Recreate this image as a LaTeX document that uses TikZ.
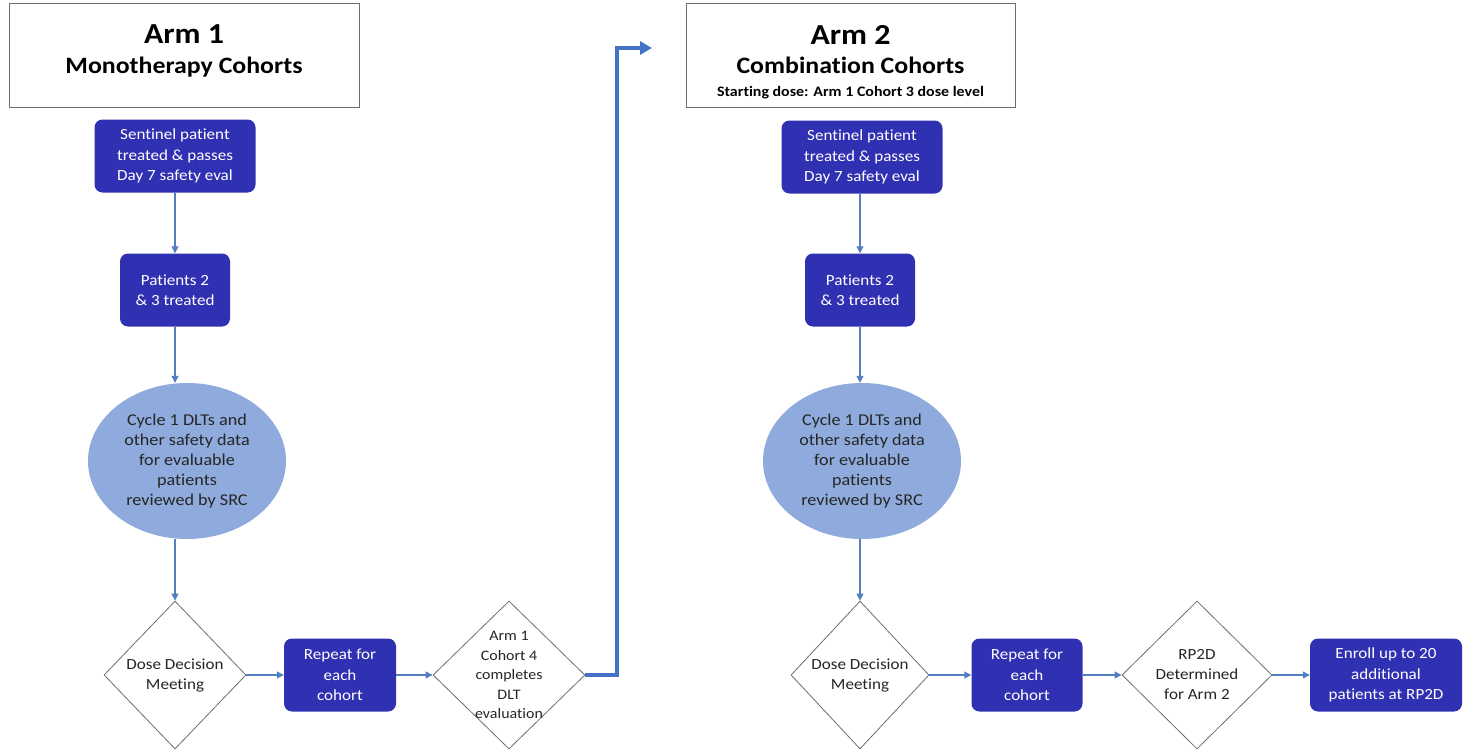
\documentclass[tikz,border=0pt]{standalone}
\usepackage{fontspec}
\setmainfont{Carlito}[FakeStretch=1.1, Ligatures=NoCommon]
\usetikzlibrary{shapes.geometric,arrows.meta}

\definecolor{boxblue}{RGB}{48,48,178}
\definecolor{ovalblue}{RGB}{143,170,220}
\definecolor{linkblue}{RGB}{84,126,194}
\definecolor{armblue}{RGB}{68,114,196}
\definecolor{framegray}{RGB}{110,110,110}

\tikzset{
  titlebox/.style={draw=framegray, line width=1pt, minimum width=#1, minimum height=103pt, inner sep=0pt},
  armname/.style={font=\bfseries\fontsize{29}{34}\selectfont},
  armkind/.style={font=\bfseries\fontsize{23.5}{28}\selectfont},
  armnote/.style={font=\bfseries\fontsize{14.5}{18}\selectfont},
  stepbox/.style={fill=boxblue, rounded corners=8pt, text=white, font=\fontsize{15.5}{20.5}\selectfont, align=center, minimum width=#1, minimum height=73pt, inner sep=0pt},
  review/.style={ellipse, fill=ovalblue, text=black!85, font=\fontsize{16.5}{20}\selectfont, align=center, minimum width=198pt, minimum height=156pt, inner sep=0pt},
  decision/.style={diamond, draw=framegray, line width=0.8pt, fill=white, minimum width=#1, minimum height=148pt, inner sep=0pt},
  decisiontext/.style={font=\fontsize{15.5}{20}\selectfont, align=center, text=black!85},
  link/.style={draw=linkblue, line width=1.1pt, -{Triangle[length=7pt,width=7pt]}},
  armlink/.style={draw=armblue, line width=3.5pt, -{Triangle[length=12pt,width=13pt]}}
}

\begin{document}
\begin{tikzpicture}[x=1pt,y=-1pt]
\useasboundingbox (0,0) rectangle (1466,752);

% Arm 1
\node[titlebox=350pt,
  label={[armname, yshift=21pt]center:Arm 1},
  label={[armkind, yshift=-12pt]center:Monotherapy Cohorts}] (arm1) at (184,55.5) {};

\node[stepbox=161pt] (sent1) at (175,156) {Sentinel patient\\treated \& passes\\Day 7 safety eval};
\node[stepbox=110pt] (pat1) at (175,290) {Patients 2\\\& 3 treated};
\node[review] (src1) at (187,461) {Cycle 1 DLTs and\\other safety data\\for evaluable\\patients\\reviewed by SRC};
\node[decision=142pt, label={[decisiontext]center:Dose Decision\\Meeting}] (ddm1) at (175,675) {};
\node[stepbox=112pt] (rep1) at (340,675) {Repeat for\\each\\cohort};
\node[decision=152pt, label={[decisiontext, font=\fontsize{14.5}{19.5}\selectfont]center:Arm 1\\Cohort 4\\completes\\DLT\\evaluation}] (coh4) at (509,675) {};

\draw[link] (sent1) -- (pat1);
\draw[link] (pat1) -- (pat1 |- src1.north);
\draw[link] (src1.south -| ddm1) -- (ddm1);
\draw[link] (ddm1) -- (rep1);
\draw[link] (rep1) -- (coh4);

% jump to Arm 2
\coordinate (bend) at (617,48);
\coordinate (armtip) at (652,48);
\draw[armlink] (coh4.east) -| (bend) -- (armtip);

% Arm 2
\node[titlebox=329pt,
  label={[armname, yshift=21pt]center:Arm 2},
  label={[armkind, yshift=-10pt]center:Combination Cohorts},
  label={[armnote, yshift=-37pt]center:Starting dose: Arm 1 Cohort 3 dose level}] (arm2) at (850.5,55.5) {};

\node[stepbox=161pt] (sent2) at (862,157) {Sentinel patient\\treated \& passes\\Day 7 safety eval};
\node[stepbox=110pt] (pat2) at (860,290) {Patients 2\\\& 3 treated};
\node[review] (src2) at (862,461) {Cycle 1 DLTs and\\other safety data\\for evaluable\\patients\\reviewed by SRC};
\node[decision=138pt, label={[decisiontext]center:Dose Decision\\Meeting}] (ddm2) at (860,675) {};
\node[stepbox=111pt] (rep2) at (1027,675) {Repeat for\\each\\cohort};
\node[decision=150pt, label={[decisiontext]center:RP2D\\Determined\\for Arm 2}] (rp2d) at (1197,675) {};
\node[stepbox=152pt] (enrol) at (1386,675) {Enroll up to 20\\additional\\patients at RP2D};

\draw[link] (sent2.south -| pat2) -- (pat2);
\draw[link] (pat2) -- (pat2 |- src2.north);
\draw[link] (src2.south -| ddm2) -- (ddm2);
\draw[link] (ddm2) -- (rep2);
\draw[link] (rep2) -- (rp2d);
\draw[link] (rp2d) -- (enrol);
\end{tikzpicture}
\end{document}
